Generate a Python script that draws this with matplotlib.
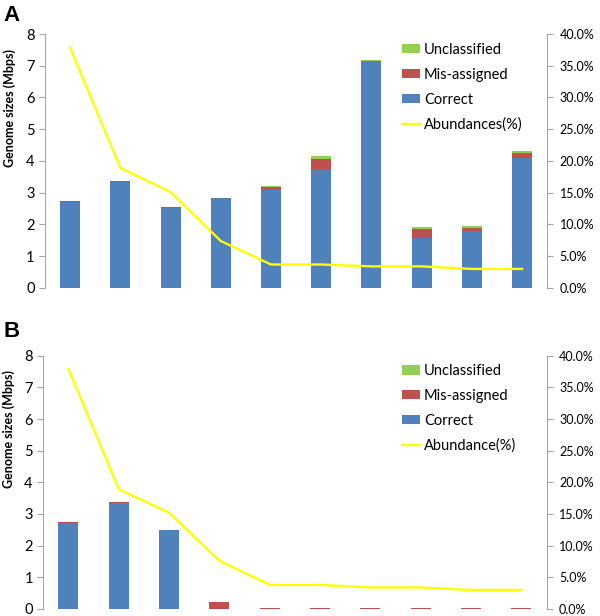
import numpy as np
import matplotlib
matplotlib.use("Agg")
import matplotlib.pyplot as plt
from matplotlib.ticker import FuncFormatter

plt.rcParams["font.family"] = ["Lato", "DejaVu Sans"]

# ten genomes, ordered by abundance
genomes = np.arange(10)

correct_a = [2.70, 3.35, 2.52, 2.82, 3.10, 3.72, 7.15, 1.58, 1.80, 4.10]
misassigned_a = [0.03, 0.02, 0.02, 0.03, 0.07, 0.34, 0.01, 0.28, 0.09, 0.14]
unclassified_a = [0.00, 0.01, 0.00, 0.00, 0.05, 0.10, 0.02, 0.07, 0.06, 0.07]
abundance_a = [37.8, 18.9, 15.1, 7.4, 3.7, 3.7, 3.4, 3.4, 3.0, 3.0]

correct_b = [2.72, 3.35, 2.48, 0.00, 0.00, 0.00, 0.00, 0.00, 0.00, 0.00]
misassigned_b = [0.02, 0.02, 0.00, 0.21, 0.025, 0.025, 0.025, 0.025, 0.025, 0.025]
unclassified_b = [0.00, 0.00, 0.015, 0.01, 0.00, 0.00, 0.00, 0.00, 0.00, 0.00]
abundance_b = [37.9, 18.9, 15.2, 7.6, 3.8, 3.8, 3.4, 3.4, 3.0, 3.0]

BLUE = "#4F81BD"
RED = "#C0504D"
GREEN = "#92D050"
YELLOW = "#FFFF00"
GRAY = "#A6A6A6"


def draw_panel(fig, rect, correct, mis, uncl, abund, line_label, letter, letter_y,
               leg_anchor):
    ax = fig.add_axes(rect)
    correct = np.array(correct)
    mis = np.array(mis)
    uncl = np.array(uncl)
    b1 = ax.bar(genomes, correct, width=0.4, color=BLUE, label="Correct")
    b2 = ax.bar(genomes, mis, width=0.4, bottom=correct, color=RED, label="Mis-assigned")
    b3 = ax.bar(genomes, uncl, width=0.4, bottom=correct + mis, color=GREEN,
                label="Unclassified")
    ax.set_xlim(-0.5, 9.5)
    ax.set_ylim(0, 8)
    ax.set_yticks(range(0, 9))
    ax.set_xticks([])
    ax.set_ylabel("Genome sizes (Mbps)", fontsize=9, fontweight="bold")
    ax.yaxis.set_label_coords(-0.057, 0.71)
    for side in ["top", "bottom", "right"]:
        ax.spines[side].set_visible(False)
    ax.spines["left"].set_color(GRAY)
    ax.tick_params(axis="y", colors=GRAY, labelcolor="black", labelsize=10.5,
                   length=4, direction="out")

    ax2 = ax.twinx()
    (ln,) = ax2.plot(genomes, abund, color=YELLOW, linewidth=1.7, label=line_label)
    ax2.set_ylim(0, 40)
    ax2.set_yticks(np.arange(0, 41, 5))
    ax2.yaxis.set_major_formatter(FuncFormatter(lambda v, p: f"{v:.1f}%"))
    for side in ["top", "bottom", "left"]:
        ax2.spines[side].set_visible(False)
    ax2.spines["right"].set_color(GRAY)
    ax2.tick_params(axis="y", colors=GRAY, labelcolor="black", labelsize=9,
                    length=4, direction="out", pad=5)

    ax2.legend([b3, b2, b1, ln],
               ["Unclassified", "Mis-assigned", "Correct", line_label],
               loc="upper left", bbox_to_anchor=leg_anchor,
               bbox_transform=fig.transFigure, frameon=False, fontsize=10.5,
               handlelength=1.23, handleheight=0.6, handletextpad=0.27,
               labelspacing=0.75, borderaxespad=0, borderpad=0)

    fig.text(0.006, letter_y, letter, fontsize=16, fontweight="bold",
             family="Liberation Sans", va="top")
    return ax


fig = plt.figure(figsize=(6, 6.16), dpi=100)

draw_panel(fig, [0.075, 0.5325, 0.837, 0.4123], correct_a, misassigned_a,
           unclassified_a, abundance_a, "Abundances(%)", "A", 0.992, (0.67, 0.9305))
draw_panel(fig, [0.072, 0.0114, 0.839, 0.4112], correct_b, misassigned_b,
           unclassified_b, abundance_b, "Abundance(%)", "B", 0.479, (0.67, 0.409))

fig.savefig("out.png", dpi=100)
